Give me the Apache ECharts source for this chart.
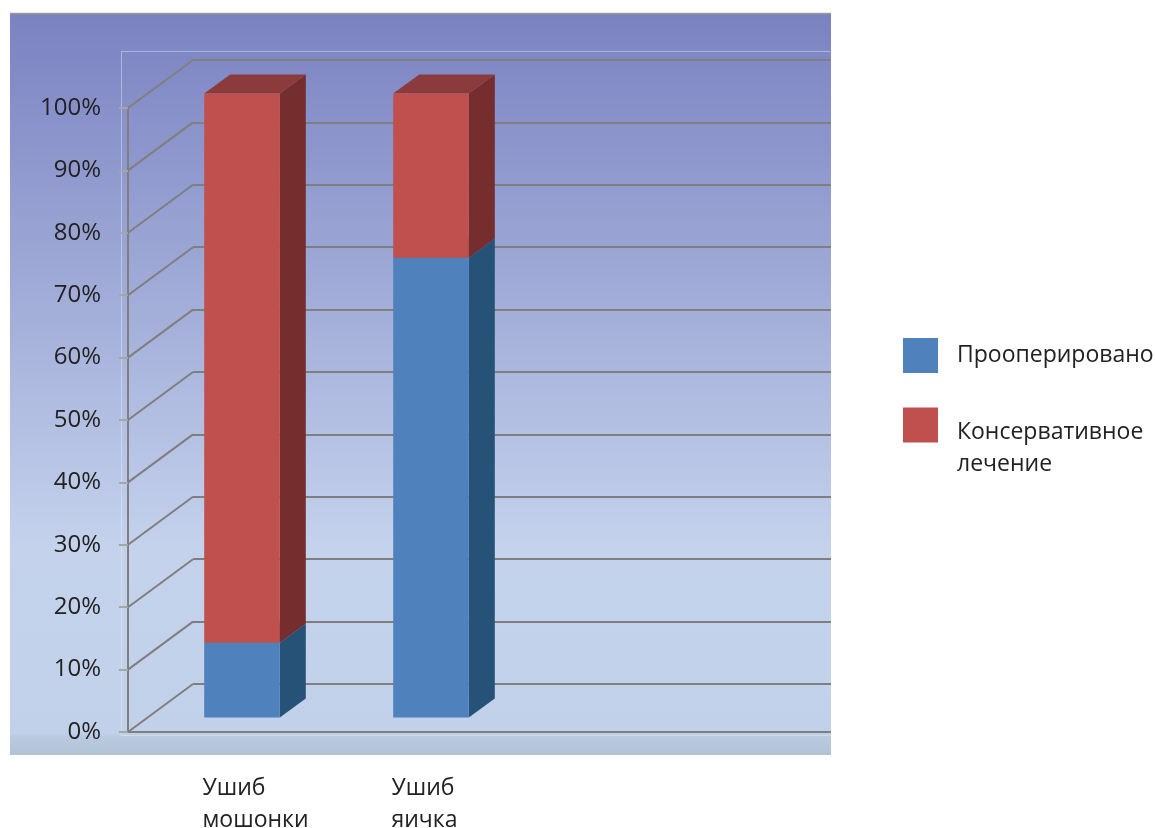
<!DOCTYPE html>
<html>
<head>
<meta charset="utf-8">
<style>
  html, body { margin: 0; padding: 0; background: #fff; }
  #main { width: 1155px; height: 828px; }
</style>
</head>
<body>
<div id="main"></div>
<script src="https://cdn.jsdelivr.net/npm/echarts@6/dist/echarts.min.js"></script>
<script>
var categories = ['Ушиб\nмошонки', 'Ушиб\nяичка', '', ''];
var seriesNames = ['Прооперировано', 'Консервативное лечение'];
var operated = [12, 73.7];
var conservative = [88, 26.3];
var yTicks = [0, 10, 20, 30, 40, 50, 60, 70, 80, 90, 100];

// 3d depth of the floor (px)
var DX = 65, DY = -48;
var FONT = '"Open Sans", "Noto Sans", sans-serif';
var TXT = '#222222';

var chartDom = document.getElementById('main');
var myChart = echarts.init(chartDom);
var option;

function boxRender(front, side, top) {
  return function (params, api) {
    var i = api.value(0);
    var a = api.coord([i, api.value(1)]);
    var b = api.coord([i, api.value(2)]);
    var bw = api.size([1, 0])[0] * 0.4;
    var cx = a[0] + DX * 0.3;
    var yb = a[1] + DY * 0.3;
    var yt = b[1] + DY * 0.3;
    var x0 = cx - bw / 2, x1 = cx + bw / 2;
    var sx = DX * 0.4, sy = DY * 0.4;
    return {
      type: 'group',
      children: [
        { type: 'polygon', shape: { points: [[x1, yb], [x1 + sx, yb + sy], [x1 + sx, yt + sy], [x1, yt]] }, style: { fill: side } },
        { type: 'polygon', shape: { points: [[x0, yt], [x0 + sx, yt + sy], [x1 + sx, yt + sy], [x1, yt]] }, style: { fill: top } },
        { type: 'rect', shape: { x: x0, y: yt, width: bw, height: yb - yt }, style: { fill: front } }
      ]
    };
  };
}

var blueData = operated.map(function (v, i) { return [i, 0, v]; });
var redData = conservative.map(function (v, i) { return [i, operated[i], operated[i] + v]; });

option = {
  animation: false,
  graphic: [
    {
      type: 'rect', z: -10,
      shape: { x: 10, y: 13, width: 821, height: 742 },
      style: {
        fill: new echarts.graphic.LinearGradient(0, 0, 0, 1, [
          { offset: 0, color: '#7a82c1' },
          { offset: 0.4, color: '#a3aed9' },
          { offset: 0.72, color: '#c4d2ec' },
          { offset: 0.97, color: '#c2d1ea' },
          { offset: 0.975, color: '#bacbe1' },
          { offset: 1, color: '#b0c2d6' }
        ])
      }
    },
    {
      type: 'line', z: -9,
      shape: { x1: 10, y1: 13.5, x2: 831, y2: 13.5 },
      style: { stroke: '#9a9a9a', lineWidth: 1.5 }
    },
    {
      type: 'rect', z: -8,
      shape: { x: 121.5, y: 51.5, width: 720, height: 684 },
      style: { fill: 'none', stroke: 'rgba(230,235,250,0.45)', lineWidth: 1 }
    },
    {
      type: 'rect', z: 100,
      shape: { x: 831, y: 0, width: 60, height: 770 },
      style: { fill: '#ffffff' }
    }
  ],
  legend: [
    {
      data: [seriesNames[0]],
      orient: 'vertical',
      left: 903, top: 338,
      padding: 0,
      itemWidth: 35, itemHeight: 35,
      icon: 'rect',
      textStyle: { fontFamily: FONT, fontSize: 23, color: TXT, padding: [0, 0, 0, 14] }
    },
    {
      data: [seriesNames[1]],
      orient: 'vertical',
      left: 903, top: 388,
      padding: 0,
      itemWidth: 35, itemHeight: 35,
      icon: 'rect',
      formatter: function (name) {
        var parts = name.split(' ');
        return '{s| }\n{a|' + parts[0] + '}\n{a|' + parts[1] + '}';
      },
      textStyle: {
        fontFamily: FONT, fontSize: 23, color: TXT,
        padding: [0, 0, 0, 14],
        rich: {
          s: { lineHeight: 46, fontSize: 10 },
          a: { lineHeight: 32, fontFamily: FONT, fontSize: 23, color: TXT }
        }
      }
    }
  ],
  grid: [
    { left: 128, top: 108, right: 271, bottom: 96, outerBoundsMode: 'none', containLabel: false },
    { left: 128 + DX, top: 108 + DY, right: 324, bottom: 96 - DY, outerBoundsMode: 'none', containLabel: false }
  ],
  xAxis: [
    {
      type: 'category',
      gridIndex: 0,
      data: categories,
      axisLine: { lineStyle: { color: '#7f7f7f', width: 2 } },
      axisTick: { length: 10, lineStyle: { color: '#a6a6a6', width: 2 } },
      axisLabel: {
        margin: 40,
        align: 'center',
        formatter: function (v) {
          if (!v) return '';
          return v.split('\n').map(function (s) { return '{a|' + s + '}'; }).join('\n');
        },
        rich: {
          a: { width: 40, align: 'left', fontFamily: FONT, fontSize: 23, color: TXT, lineHeight: 32 }
        }
      }
    },
    { type: 'value', gridIndex: 1, show: false, min: 0, max: 1 }
  ],
  yAxis: [
    {
      type: 'value',
      gridIndex: 0,
      min: 0, max: 100, interval: 10,
      axisLine: { show: true, lineStyle: { color: '#7f7f7f', width: 2 } },
      axisTick: { show: true, length: 9, lineStyle: { color: '#a6a6a6', width: 2 } },
      splitLine: { show: false },
      axisLabel: { margin: 27, formatter: '{value}%', fontFamily: FONT, fontSize: 24, color: TXT }
    },
    {
      type: 'value',
      gridIndex: 1,
      min: 0, max: 100, interval: 10,
      axisLine: { show: false },
      axisTick: { show: false },
      axisLabel: { show: false },
      splitLine: { show: true, lineStyle: { color: '#7f7f7f', width: 2.2 } }
    }
  ],
  series: [
    {
      type: 'custom',
      name: 'diag',
      xAxisIndex: 0, yAxisIndex: 0,
      silent: true,
      z: 1,
      data: yTicks.map(function (v) { return [0, v]; }),
      encode: { x: 0, y: 1 },
      renderItem: function (params, api) {
        var p = api.coord([0, api.value(1)]);
        var x = params.coordSys.x;
        return {
          type: 'line',
          shape: { x1: x, y1: p[1], x2: x + DX, y2: p[1] + DY },
          style: { stroke: '#7f7f7f', lineWidth: 2 }
        };
      }
    },
    {
      type: 'custom',
      name: seriesNames[0],
      xAxisIndex: 0, yAxisIndex: 0,
      itemStyle: { color: '#4f81bd' },
      data: blueData,
      encode: { x: 0, y: [1, 2] },
      z: 3,
      renderItem: boxRender('#4f81bd', '#265278', '#3a6a9e')
    },
    {
      type: 'custom',
      name: seriesNames[1],
      xAxisIndex: 0, yAxisIndex: 0,
      itemStyle: { color: '#c0504d' },
      data: redData,
      encode: { x: 0, y: [1, 2] },
      z: 4,
      renderItem: boxRender('#c0504d', '#752d2e', '#8b3b3b')
    }
  ]
};

option && myChart.setOption(option);
</script>
</body>
</html>
